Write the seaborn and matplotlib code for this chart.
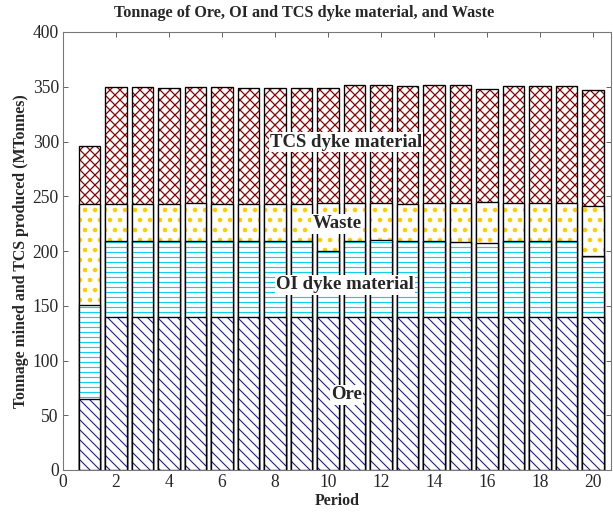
import numpy as np
import pandas as pd
import seaborn as sns
import matplotlib
matplotlib.use("Agg")
import matplotlib.pyplot as plt

# ---- data (MTonnes) ----
periods = list(range(1, 21))
ore = [65, 140, 140, 140, 140, 140, 140, 140, 140, 140,
       140, 140, 140, 140, 140, 140, 140, 140, 140, 140]
oi_dyke = [86, 69.5, 69.5, 69.5, 69.5, 69.5, 69.5, 69.5, 69.5, 59.7,
           69.4, 69.7, 69.4, 69.4, 68.5, 67.0, 69.0, 69.4, 69.4, 55.0]
waste = [92, 33.5, 33.5, 33.5, 34.0, 33.5, 33.5, 33.5, 33.5, 44.3,
         34.6, 34.3, 33.6, 34.6, 35.5, 37.5, 35.0, 34.6, 34.6, 46.5]
tcs_dyke = [53, 107, 106.5, 106, 106, 106.5, 105.5, 106, 106, 105,
            108, 107.5, 108, 107.5, 107.5, 103.5, 107, 106.3, 106.3, 105.7]
layer_names = ["Ore", "OI dyke material", "Waste", "TCS dyke material"]
y_ticks = [0, 50, 100, 150, 200, 250, 300, 350, 400]
x_ticks = [0, 2, 4, 6, 8, 10, 12, 14, 16, 18, 20]

DPI = 60
sns.set_style("ticks")
plt.rcParams["font.family"] = ["Liberation Serif", "DejaVu Serif"]
plt.rcParams["xtick.direction"] = "in"
plt.rcParams["ytick.direction"] = "in"

fig = plt.figure(figsize=(613 / DPI, 514 / DPI), dpi=DPI)
ax = fig.add_axes([63 / 613, 44 / 514, 548 / 613, 438 / 514])

df = pd.DataFrame({"period": periods, "ore": ore, "oi": oi_dyke,
                   "waste": waste, "tcs": tcs_dyke})
df["c_ore"] = df["ore"]
df["c_oi"] = df["c_ore"] + df["oi"]
df["c_waste"] = df["c_oi"] + df["waste"]
df["c_tcs"] = df["c_waste"] + df["tcs"]

layers = [  # drawn from top of stack downward (each covers the previous)
    ("c_tcs", "xx", "#8b0000", 1.5),
    ("c_waste", ".", "#ffcc00", 3.0),
    ("c_oi", "--", "#10d0f0", 1.4),
    ("c_ore", "\\\\", "#1a1a9c", 1.3),
]
for col, hatch, hcol, hlw in layers:
    with plt.rc_context({"hatch.linewidth": hlw}):
        sns.barplot(data=df, x="period", y=col, native_scale=True,
                    color="white", saturation=1, edgecolor=hcol, linewidth=0,
                    hatch=hatch, errorbar=None, width=0.8, ax=ax)
    sns.barplot(data=df, x="period", y=col, native_scale=True, fill=False,
                color="black", linewidth=1.6, errorbar=None, width=0.8, ax=ax)

ax.set_xlim(0, 548 / 26.5)
ax.set_ylim(0, 400)
ax.set_xticks(x_ticks)
ax.set_yticks(y_ticks)
ax.tick_params(axis="both", labelsize=21, length=6, width=1.2, color="#666666",
               top=True, right=True, pad=5)
for s in ax.spines.values():
    s.set_visible(True)
    s.set_color("#777777")
    s.set_linewidth(1.3)

fig.text(304 / 613, 1 - 13 / 514,
         "Tonnage of Ore, OI and TCS dyke material, and Waste",
         fontsize=19.5, fontweight="bold", ha="center", va="center")
ax.set_xlabel("Period", fontsize=19, fontweight="bold", labelpad=2)
ax.set_ylabel("Tonnage mined and TCS produced (MTonnes)", fontsize=19,
              fontweight="bold", labelpad=4)

label_pos = [(10.7, 68.5), (10.64, 169), (10.34, 224.7), (10.68, 299.5)]
for name, (lx, ly) in zip(layer_names, label_pos):
    ax.text(lx, ly, name, ha="center", va="center", fontsize=22.5,
            fontweight="bold",
            bbox=dict(facecolor="white", edgecolor="none", pad=1.5), zorder=5)

fig.savefig("out.png", dpi=DPI)
